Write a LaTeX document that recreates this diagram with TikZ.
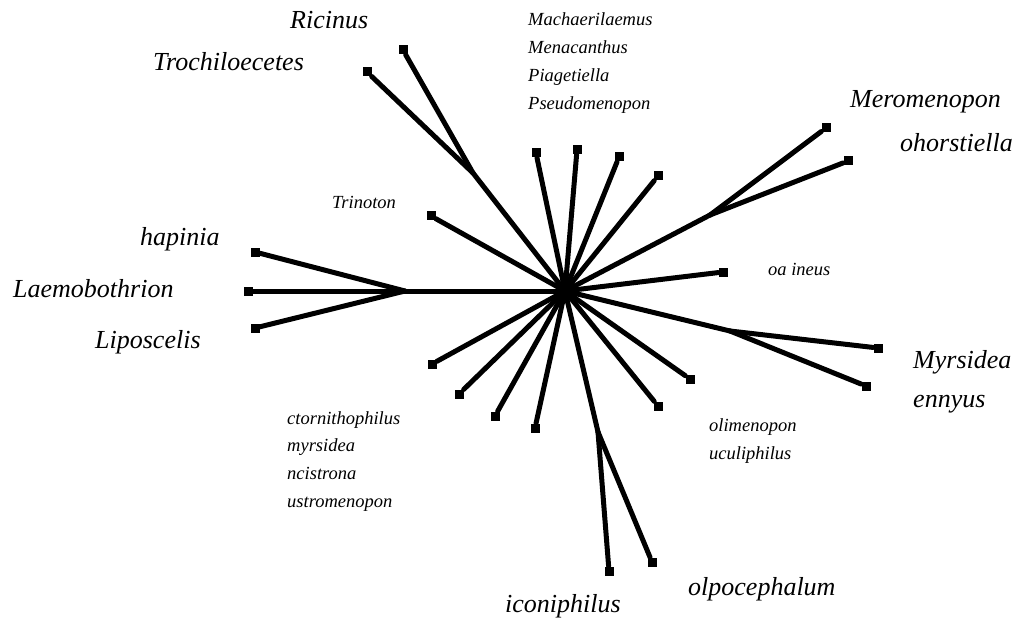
\documentclass[tikz,border=0pt]{standalone}
\usepackage{fontspec}
\setmainfont{Liberation Serif}
\usetikzlibrary{positioning}

\tikzset{
    % Leaf marker - small black square at the tip of a branch
    leaf/.style={
        rectangle,
        fill=black,
        inner sep=0pt,
        minimum size=9pt,
    },
    % Inner vertex of the tree
    joint/.style={coordinate},
    % Branch - thick black line
    branch/.style={
        line width=5pt,
        line cap=round,
        draw=black,
    },
    % Taxon names, large and small
    taxon big/.style={
        font=\fontsize{26}{30}\selectfont\itshape,
        anchor=base west,
        inner sep=0pt,
    },
    taxon small/.style={
        font=\fontsize{18.5}{28}\selectfont\itshape,
        anchor=base west,
        inner sep=0pt,
    },
}

\begin{document}
\begin{tikzpicture}[x=1pt, y=-1pt]
    \useasboundingbox (0,0) rectangle (1029,623);

    % inner vertices
    \node (center) [joint] at (565,291) {};
    \node (jRic) [joint] at (473,173) {};
    \node (jMer) [joint] at (710,215) {};
    \node (jLae) [joint] at (405,291) {};
    \node (jMyr) [joint] at (730,331) {};
    \node (jIco) [joint] at (598,432) {};

    % tips
    \node (ricinus) [leaf] at (403,50) {};
    \node (trochil) [leaf] at (367,72) {};
    \node (topA) [leaf] at (536,153) {};
    \node (topB) [leaf] at (577,150) {};
    \node (topC) [leaf] at (619,157) {};
    \node (topD) [leaf] at (658,176) {};
    \node (trinoton) [leaf] at (431,216) {};
    \node (merom) [leaf] at (826,128) {};
    \node (ohorst) [leaf] at (848,161) {};
    \node (oaineus) [leaf] at (723,272) {};
    \node (hapinia) [leaf] at (255,252) {};
    \node (laemo) [leaf] at (248,291) {};
    \node (lipos) [leaf] at (255,328) {};
    \node (myrs) [leaf] at (878,348) {};
    \node (ennyus) [leaf] at (866,386) {};
    \node (lowA) [leaf] at (432,364) {};
    \node (lowB) [leaf] at (459,394) {};
    \node (lowC) [leaf] at (495,416) {};
    \node (lowD) [leaf] at (535,428) {};
    \node (lowE) [leaf] at (690,379) {};
    \node (lowF) [leaf] at (658,406) {};
    \node (iconi) [leaf] at (609,571) {};
    \node (olpo) [leaf] at (652,562) {};

    % branches
    \draw [branch] (center) -- (jRic);
    \draw [branch] (jRic) -- (ricinus);
    \draw [branch] (jRic) -- (trochil);
    \draw [branch] (center) -- (jMer);
    \draw [branch] (jMer) -- (merom);
    \draw [branch] (jMer) -- (ohorst);
    \draw [branch] (center) -- (jLae);
    \draw [branch] (jLae) -- (hapinia);
    \draw [branch] (jLae) -- (laemo);
    \draw [branch] (jLae) -- (lipos);
    \draw [branch] (center) -- (jMyr);
    \draw [branch] (jMyr) -- (myrs);
    \draw [branch] (jMyr) -- (ennyus);
    \draw [branch] (center) -- (jIco);
    \draw [branch] (jIco) -- (iconi);
    \draw [branch] (jIco) -- (olpo);
    \foreach \tip in {topA,topB,topC,topD,trinoton,oaineus,lowA,lowB,lowC,lowD,lowE,lowF}
        \draw [branch] (center) -- (\tip);

    % labels
    \node (lRicinus) [taxon big] at (290,29) {Ricinus};
    \node (lTrochil) [taxon big] at (153,71) {Trochiloecetes};
    \node (lMerom) [taxon big] at (850,108) {Meromenopon};
    \node (lOhorst) [taxon big] at (900,152) {ohorstiella};
    \node (lHapinia) [taxon big] at (140,245) {hapinia};
    \node (lLaemo) [taxon big] at (13,297) {Laemobothrion};
    \node (lLipos) [taxon big] at (95,348) {Liposcelis};
    \node (lMyrs) [taxon big] at (913,368) {Myrsidea};
    \node (lEnnyus) [taxon big] at (913,407) {ennyus};
    \node (lIconi) [taxon big] at (505,612) {iconiphilus};
    \node (lOlpo) [taxon big] at (688,595) {olpocephalum};
    \node (lTrinoton) [taxon small] at (332,208) {Trinoton};
    \node (lOaineus) [taxon small] at (768,275) {oa ineus};
    \node (lOlimen) [taxon small] at (709,431) {olimenopon};
    \node (lUculi) [taxon small] at (709,459) {uculiphilus};
    \foreach \name [count=\i from 0] in {Machaerilaemus,Menacanthus,Piagetiella,Pseudomenopon}
        \node (lTop\i) [taxon small] at (528,26+28*\i) {\name};
    \foreach \name [count=\i from 0] in {ctornithophilus,myrsidea,ncistrona,ustromenopon}
        \node (lLow\i) [taxon small] at (287,424+27.7*\i) {\name};
\end{tikzpicture}
\end{document}
